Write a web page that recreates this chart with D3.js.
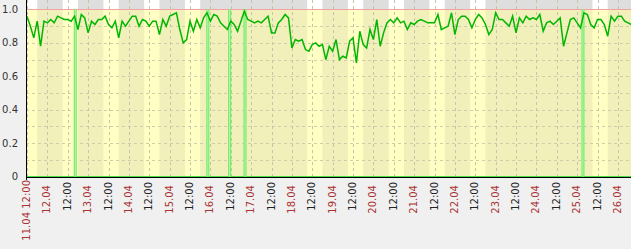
<!DOCTYPE html>
<html>
<head>
<meta charset="utf-8">
<script src="https://cdn.jsdelivr.net/npm/d3@7"></script>
<style>
body { margin: 0; background: #f0f0f0; }
svg { display: block; font-family: "DejaVu Sans", sans-serif; }
</style>
</head>
<body>
<div id="chart"></div>
<script>
// series starts 11.04 12:00, one value every 2 hours
const startTime = new Date(2011, 3, 11, 12);
const stepHours = 2;
const availability = [
  0.96,0.90,0.83,0.93,0.78,0.93,0.92,0.94,0.92,0.96,0.95,0.94,0.94,0.93,0.96,0.88,0.97,0.95,0.86,0.93,0.91,0.94,0.94,0.96,0.91,0.89,0.93,0.83,0.93,0.90,
  0.93,0.96,0.96,0.90,0.94,0.93,0.90,0.93,0.93,0.85,0.94,0.90,0.96,0.97,0.98,0.88,0.80,0.82,0.93,0.87,0.94,0.89,0.95,0.98,0.93,0.97,0.96,0.92,0.90,0.88,
  0.93,0.91,0.87,0.93,0.99,0.94,0.93,0.92,0.93,0.92,0.94,0.96,0.86,0.86,0.92,0.94,0.97,0.95,0.77,0.82,0.81,0.82,0.76,0.75,0.79,0.80,0.78,0.79,0.70,
  0.78,0.75,0.82,0.70,0.72,0.71,0.81,0.83,0.68,0.87,0.79,0.77,0.88,0.82,0.94,0.78,0.86,0.92,0.94,0.92,0.95,0.92,0.93,0.88,0.92,0.91,0.93,0.94,0.93,0.92,
  0.92,0.92,0.97,0.88,0.89,0.90,0.98,0.85,0.94,0.96,0.96,0.94,0.89,0.94,0.97,0.95,0.91,0.85,0.88,0.98,0.94,0.94,0.92,0.90,0.96,0.86,0.95,0.92,0.96,
  0.94,0.95,0.94,0.97,0.87,0.92,0.93,0.91,0.93,0.95,0.78,0.86,0.94,0.95,0.92,0.89,0.98,0.97,0.91,0.89,0.94,0.94,0.91,0.84,0.96,0.93,0.96,0.96,0.93,0.92,0.91
];
// short drops to zero
const outageTimes = ["2011-04-12 16:25", "2011-04-15 22:30", "2011-04-16 11:20", "2011-04-16 20:25", "2011-04-25 03:25"];
const yTicks = [0, 0.2, 0.4, 0.6, 0.8, 1.0];
const yTickLabels = ["0", "0.2", "0.4", "0.6", "0.8", "1.0"];
const yGrid = [0.1, 0.2, 0.3, 0.4, 0.5, 0.6, 0.7, 0.8, 0.9];

const W = 631, H = 249;
const plotLeft = 26, plotTop = 9, plotBottom = 176;
const pxPerHour = 1.698;

const parse = d3.timeParse("%Y-%m-%d %H:%M");
const endTime = d3.timeHour.offset(startTime, 360);

const x = d3.scaleTime()
    .domain([startTime, endTime])
    .range([plotLeft + 1, plotLeft + 1 + 360 * pxPerHour]);

const y = d3.scaleLinear()
    .domain([0, 1])
    .range([plotBottom + 0.5, plotTop + 0.5]);

const svg = d3.select("#chart").append("svg")
    .attr("width", W)
    .attr("height", H);

svg.append("rect").attr("width", W).attr("height", H).attr("fill", "#f0f0f0");

svg.append("clipPath").attr("id", "plotclip")
  .append("rect")
    .attr("x", plotLeft).attr("y", 0)
    .attr("width", W - plotLeft).attr("height", plotBottom + 1);

const plot = svg.append("g").attr("clip-path", "url(#plotclip)");

// off-hours background + strip above
plot.append("rect")
    .attr("x", plotLeft).attr("y", plotTop)
    .attr("width", W - plotLeft).attr("height", plotBottom - plotTop + 1)
    .attr("fill", "#f1efba");
plot.append("rect")
    .attr("x", plotLeft).attr("y", 0)
    .attr("width", W - plotLeft).attr("height", plotTop)
    .attr("fill", "#dedede");

// working hours 09:00-18:00 on weekdays
const days = d3.timeDay.range(d3.timeDay.floor(startTime), d3.timeDay.offset(endTime, 1))
    .filter(d => d.getDay() !== 0 && d.getDay() !== 6);

days.forEach(d => {
    const x0 = x(d3.timeHour.offset(d, 9));
    const x1 = x(d3.timeHour.offset(d, 18));
    plot.append("rect")
        .attr("x", x0).attr("y", plotTop)
        .attr("width", x1 - x0).attr("height", plotBottom - plotTop + 1)
        .attr("fill", "#ffffc4");
    plot.append("rect")
        .attr("x", x0).attr("y", 0)
        .attr("width", x1 - x0).attr("height", plotTop)
        .attr("fill", "#ffffff");
});

// grid
plot.selectAll(".hgrid").data(yGrid).join("line")
    .attr("x1", plotLeft).attr("x2", W)
    .attr("y1", d => Math.round(y(d)) + 0.5).attr("y2", d => Math.round(y(d)) + 0.5)
    .attr("stroke", "#cfcdaa").attr("stroke-dasharray", "3,3");

const halfDays = d3.timeHour.every(12).range(startTime, d3.timeHour.offset(endTime, 1));
plot.selectAll(".vgrid").data(halfDays).join("line")
    .attr("x1", d => Math.round(x(d)) + 0.5).attr("x2", d => Math.round(x(d)) + 0.5)
    .attr("y1", 0).attr("y2", plotBottom)
    .attr("stroke", "#c6c4aa").attr("stroke-dasharray", "3,3");

// 1.0 line
plot.append("line")
    .attr("x1", plotLeft).attr("x2", W)
    .attr("y1", y(1)).attr("y2", y(1))
    .attr("stroke", "#f2a3a0");

// zero line of the series
plot.append("line")
    .attr("x1", plotLeft).attr("x2", W)
    .attr("y1", y(0)).attr("y2", y(0))
    .attr("stroke", "#44dd44");

// outages
outageTimes.forEach(t => {
    const xx = x(parse(t));
    plot.append("line")
        .attr("x1", xx).attr("x2", xx).attr("y1", y(1)).attr("y2", y(0))
        .attr("stroke", "#66ee66").attr("stroke-width", 3);
    plot.append("line")
        .attr("x1", xx).attr("x2", xx).attr("y1", y(1)).attr("y2", y(0))
        .attr("stroke", "#c4f4a8").attr("stroke-width", 1);
});

const line = d3.line()
    .x((d, i) => x(d3.timeHour.offset(startTime, i * stepHours)))
    .y(d => y(d));

plot.append("path")
    .datum(availability)
    .attr("d", line)
    .attr("fill", "none")
    .attr("stroke", "#00b600")
    .attr("stroke-width", 1.5)
    .attr("stroke-linejoin", "miter");

// axes
svg.append("line")
    .attr("x1", plotLeft + 0.5).attr("x2", plotLeft + 0.5)
    .attr("y1", 0).attr("y2", plotBottom + 4)
    .attr("stroke", "#000");
svg.append("line")
    .attr("x1", plotLeft).attr("x2", W)
    .attr("y1", plotBottom + 1.5).attr("y2", plotBottom + 1.5)
    .attr("stroke", "#000");

svg.selectAll(".ylab").data(yTicks).join("text")
    .attr("x", 18)
    .attr("y", d => y(d))
    .attr("dy", "0.35em")
    .attr("text-anchor", "end")
    .attr("font-size", 10)
    .attr("fill", "#333")
    .text((d, i) => yTickLabels[i]);

const fmtDay = d3.timeFormat("%d.%m");
svg.selectAll(".xlab").data(halfDays.filter(d => x(d) < W)).join("text")
    .attr("transform", (d, i) => {
        const top = i === 0 ? 180 : (d.getHours() === 0 ? 185 : 182);
        return `translate(${x(d) + 3},${top}) rotate(-90)`;
    })
    .attr("text-anchor", "end")
    .attr("font-size", 10)
    .attr("fill", (d, i) => (i === 0 || d.getHours() === 0) ? "#aa3333" : "#222")
    .text((d, i) => i === 0 ? fmtDay(d) + " 12:00" : (d.getHours() === 0 ? fmtDay(d) : "12:00"));
</script>
</body>
</html>
